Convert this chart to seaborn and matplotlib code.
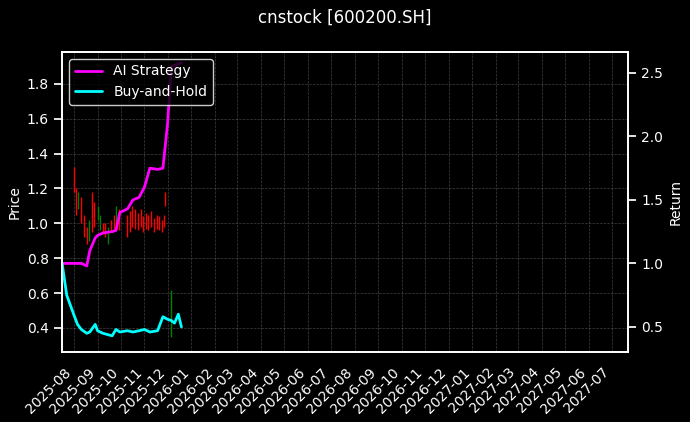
import numpy as np
import pandas as pd
import matplotlib
matplotlib.use("Agg")
import matplotlib.pyplot as plt
import matplotlib.dates as mdates
import seaborn as sns

# price wicks (low, high, up?)
candle_dates = pd.to_datetime([
    "2025-08-01", "2025-08-04", "2025-08-07", "2025-08-11", "2025-08-14", "2025-08-18",
    "2025-08-21", "2025-08-25", "2025-08-28", "2025-09-01", "2025-09-04", "2025-09-08",
    "2025-09-11", "2025-09-15", "2025-09-18", "2025-09-22", "2025-09-25", "2025-09-29",
    "2025-10-09", "2025-10-13", "2025-10-16", "2025-10-20", "2025-10-23", "2025-10-27",
    "2025-10-30", "2025-11-03", "2025-11-06", "2025-11-10", "2025-11-13", "2025-11-17",
    "2025-11-20", "2025-11-24", "2025-11-26", "2025-11-28", "2025-12-05",
])
candle_low = [1.18, 1.05, 1.08, 1.00, 0.92, 0.88, 0.90, 0.95, 0.98, 1.02, 0.96, 0.94,
              0.92, 0.88, 0.95, 0.97, 1.00, 0.96, 0.92, 0.95, 0.98, 0.97, 0.96, 0.98,
              0.95, 0.97, 0.96, 0.98, 0.95, 0.97, 0.96, 0.95, 0.98, 1.10, 0.35]
candle_high = [1.32, 1.20, 1.18, 1.15, 1.05, 0.98, 1.02, 1.18, 1.12, 1.10, 1.05, 1.00,
               1.00, 0.98, 1.02, 1.05, 1.10, 1.08, 1.05, 1.07, 1.10, 1.08, 1.06, 1.08,
               1.04, 1.06, 1.05, 1.07, 1.03, 1.05, 1.04, 1.02, 1.05, 1.18, 0.62]
candle_up = [0, 0, 1, 0, 0, 0, 1, 0, 0, 1, 1, 0, 0, 1, 0, 0, 1, 0, 0, 0, 0, 0, 0, 0,
             0, 0, 0, 0, 0, 0, 0, 0, 0, 0, 1]

ret_dates = pd.to_datetime([
    "2025-07-17", "2025-07-23", "2025-08-01", "2025-08-06", "2025-08-11", "2025-08-18",
    "2025-08-22", "2025-08-29", "2025-09-01", "2025-09-08", "2025-09-20", "2025-09-25",
    "2025-09-30", "2025-10-10", "2025-10-17", "2025-10-25", "2025-11-01", "2025-11-08",
    "2025-11-18", "2025-11-25", "2025-12-01", "2025-12-06", "2025-12-10", "2025-12-15",
    "2025-12-19",
])
ai_strategy = [1.00, 1.00, 1.00, 1.00, 1.00, 0.98, 1.10, 1.20, 1.22, 1.24, 1.25, 1.26,
               1.40, 1.43, 1.50, 1.52, 1.60, 1.75, 1.74, 1.75, 2.10, 2.55, 2.56, 2.57,
               2.58]
buy_hold = [1.00, 0.75, 0.60, 0.52, 0.48, 0.45, 0.46, 0.52, 0.47, 0.45, 0.43, 0.48,
            0.46, 0.47, 0.46, 0.47, 0.48, 0.46, 0.47, 0.58, 0.56, 0.55, 0.53, 0.60,
            0.50]

sns.set_theme(style="darkgrid")
plt.style.use("dark_background")
plt.rcParams.update({"font.size": 10, "axes.labelsize": 10, "xtick.labelsize": 10,
                     "ytick.labelsize": 10, "legend.fontsize": 10})

fig, ax = plt.subplots(figsize=(6.9, 4.22), dpi=100)
colors = ["green" if u else "red" for u in candle_up]
ax.vlines(candle_dates, candle_low, candle_high, colors=colors, linewidth=1)
ax.set_ylim(0.262, 1.983)
ax.set_ylabel("Price")
ax.grid(True, color="gray", linestyle="--", linewidth=0.5, alpha=0.5)

ax2 = ax.twinx()
df = pd.DataFrame({"date": ret_dates, "AI Strategy": ai_strategy, "Buy-and-Hold": buy_hold})
sns.lineplot(data=df, x="date", y="AI Strategy", ax=ax2, color="magenta", lw=2, label="AI Strategy")
sns.lineplot(data=df, x="date", y="Buy-and-Hold", ax=ax2, color="cyan", lw=2, label="Buy-and-Hold")
ax2.set_ylim(0.303, 2.665)
ax2.set_ylabel("Return")
ax2.grid(False)
ax2.legend(loc="upper left", facecolor="black", edgecolor="white")

ax.set_xlim(pd.Timestamp("2025-07-17"), pd.Timestamp("2027-07-22"))
ax.xaxis.set_major_locator(mdates.MonthLocator())
ax.xaxis.set_major_formatter(mdates.DateFormatter("%Y-%m"))
ax2.set_xlabel("")
ax.set_xlabel("")
plt.setp(ax.get_xticklabels(), rotation=45, ha="right")

fig.suptitle("cnstock [600200.SH]", fontsize=12)
fig.subplots_adjust(left=0.09, right=0.91, top=0.877, bottom=0.166)
fig.savefig("out.png", dpi=100)
